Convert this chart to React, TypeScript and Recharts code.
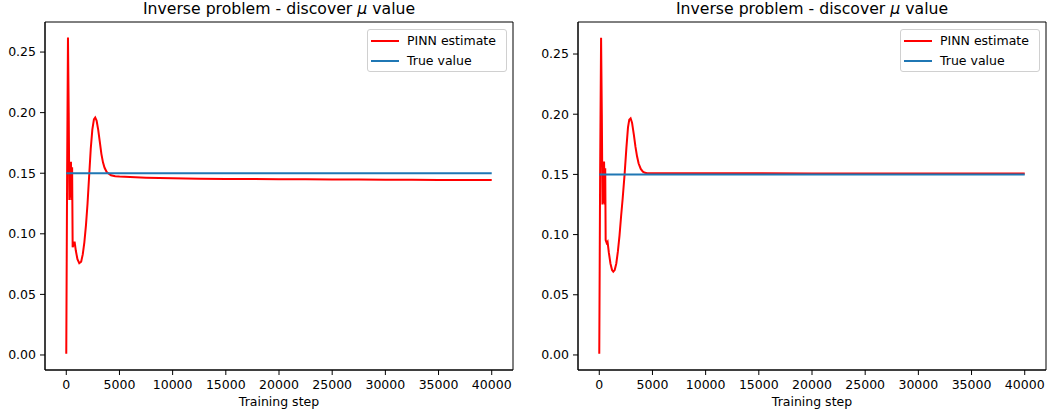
import React from "react";
import { Legend, Line, LineChart, ReferenceArea, XAxis, YAxis } from "recharts";

// training steps and PINN estimate of mu, left run
const stepsA = [
  0, 80, 160, 230, 290, 340, 390, 440, 500, 550, 600, 700, 780, 900, 1050,
  1220, 1400, 1550, 1700, 1850, 2000, 2165, 2300, 2450, 2600, 2720, 2850,
  3000, 3150, 3300, 3450, 3600, 3800, 4000, 4200, 4600, 5000, 6000, 7500,
  10000, 12500, 15000, 17500, 20000, 22500, 25000, 27500, 30000, 32500,
  35000, 37500, 40000,
];
const pinnA = [
  0.001, 0.15, 0.262, 0.2, 0.128, 0.159, 0.13, 0.1595, 0.128, 0.155, 0.089,
  0.091, 0.0935, 0.086, 0.079, 0.0757, 0.077, 0.083, 0.093, 0.107, 0.125,
  0.15, 0.17, 0.186, 0.1945, 0.196, 0.1935, 0.186, 0.176, 0.166, 0.159,
  0.1545, 0.151, 0.1495, 0.1483, 0.1475, 0.1472, 0.1468, 0.1463, 0.1458,
  0.1455, 0.1453, 0.1452, 0.1451, 0.145, 0.1449, 0.1448, 0.1446, 0.1446,
  0.1445, 0.1445, 0.1444,
];

// right run
const stepsB = [
  0, 80, 170, 240, 300, 350, 400, 450, 520, 560, 600, 700, 780, 900, 1050,
  1200, 1317, 1450, 1600, 1750, 1900, 2050, 2200, 2380, 2550, 2700, 2820,
  2946, 3080, 3250, 3400, 3550, 3700, 3900, 4100, 4300, 4517, 5000, 7500,
  10000, 15000, 20000, 25000, 30000, 35000, 40000,
];
const pinnB = [
  0.001, 0.15, 0.2635, 0.2, 0.125, 0.16, 0.126, 0.1606, 0.125, 0.155, 0.0955,
  0.093, 0.094, 0.085, 0.076, 0.0705, 0.0692, 0.0705, 0.076, 0.086, 0.099,
  0.115, 0.13, 0.15, 0.172, 0.189, 0.1955, 0.1966, 0.193, 0.183, 0.173,
  0.165, 0.159, 0.1545, 0.1523, 0.1513, 0.151, 0.1509, 0.1509, 0.1509,
  0.1509, 0.1508, 0.1508, 0.1508, 0.1508, 0.1508,
];

const trueMu = 0.15;
const xTicks = [0, 5000, 10000, 15000, 20000, 25000, 30000, 35000, 40000];
const yTicks = [0, 0.05, 0.1, 0.15, 0.2, 0.25];

const FONT = "DejaVu Sans, sans-serif";
const X_DOMAIN: [number, number] = [-2000, 42000];

function LegendBox() {
  const rows = [
    { label: "PINN estimate", color: "#ff0000" },
    { label: "True value", color: "#1f77b4" },
  ];
  return (
    <div
      style={{
        width: 140,
        height: 43,
        border: "1px solid #d0d0d0",
        borderRadius: 3,
        background: "rgba(255,255,255,0.8)",
        fontFamily: FONT,
        fontSize: 12.5,
        color: "#000",
        boxSizing: "border-box",
        paddingTop: 1,
      }}
    >
      {rows.map((r) => (
        <div
          key={r.label}
          style={{ display: "flex", alignItems: "center", height: 20 }}
        >
          <svg width={32} height={20} style={{ display: "block" }}>
            <line x1={3} x2={31} y1={10} y2={10} stroke={r.color} strokeWidth={2} />
          </svg>
          <span style={{ marginLeft: 7, lineHeight: "20px" }}>{r.label}</span>
        </div>
      ))}
    </div>
  );
}

type PanelProps = {
  steps: number[];
  values: number[];
  yDomain: [number, number];
  width: number;
  yAxisWidth: number;
  legendLeft: number;
};

function Panel({ steps, values, yDomain, width, yAxisWidth, legendLeft }: PanelProps) {
  const data = steps.map((s, i) => ({ step: s, pinn: values[i], truth: trueMu }));
  return (
    <LineChart
      width={width}
      height={415}
      data={data}
      margin={{ top: 22, right: 1, left: 0, bottom: 0 }}
      style={{ fontFamily: FONT }}
    >
      <XAxis
        dataKey="step"
        type="number"
        domain={X_DOMAIN}
        allowDataOverflow
        ticks={xTicks}
        interval={0}
        height={45}
        tickSize={5}
        tickMargin={5}
        stroke="#000"
        tick={{ fontSize: 12.5, fill: "#000" }}
        label={{
          value: "Training step",
          position: "insideBottom",
          offset: 9,
          fontSize: 12.5,
          fill: "#000",
        }}
      />
      <YAxis
        type="number"
        domain={yDomain}
        allowDataOverflow
        ticks={yTicks}
        interval={0}
        width={yAxisWidth}
        tickSize={5}
        tickMargin={4}
        stroke="#000"
        tick={{ fontSize: 12.5, fill: "#000" }}
        tickFormatter={(v: number) => v.toFixed(2)}
      />
      <ReferenceArea
        x1={X_DOMAIN[0]}
        x2={X_DOMAIN[1]}
        y1={yDomain[0]}
        y2={yDomain[1]}
        fill="none"
        stroke="#000"
        strokeWidth={1}
        ifOverflow="visible"
      />
      <Line
        dataKey="pinn"
        type="linear"
        stroke="#ff0000"
        strokeWidth={2}
        dot={false}
        isAnimationActive={false}
      />
      <Line
        dataKey="truth"
        type="linear"
        stroke="#1f77b4"
        strokeWidth={2}
        dot={false}
        isAnimationActive={false}
      />
      <Legend
        layout="vertical"
        align="center"
        verticalAlign="middle"
        wrapperStyle={{ left: legendLeft, top: 29, width: 140 }}
        content={() => <LegendBox />}
      />
    </LineChart>
  );
}

function Title({ cx }: { cx: number }) {
  return (
    <text x={cx} y={14} textAnchor="middle" fontFamily={FONT} fontSize={15.7} fill="#000">
      Inverse problem - discover <tspan fontStyle="italic">μ</tspan> value
    </text>
  );
}

export default function App() {
  return (
    <div
      style={{
        position: "absolute",
        left: 0,
        top: 0,
        width: 1047,
        height: 415,
        background: "#fff",
      }}
    >
      <div style={{ position: "absolute", left: 0, top: 0 }}>
        <Panel
          steps={stepsA}
          values={pinnA}
          yDomain={[-0.0124, 0.2748]}
          width={514}
          yAxisWidth={45}
          legendLeft={367}
        />
      </div>
      <div style={{ position: "absolute", left: 530, top: 0 }}>
        <Panel
          steps={stepsB}
          values={pinnB}
          yDomain={[-0.0125, 0.2766]}
          width={517}
          yAxisWidth={48}
          legendLeft={370}
        />
      </div>
      <svg
        width={1047}
        height={30}
        style={{ position: "absolute", left: 0, top: 0, pointerEvents: "none" }}
      >
        <Title cx={279} />
        <Title cx={812} />
      </svg>
    </div>
  );
}
